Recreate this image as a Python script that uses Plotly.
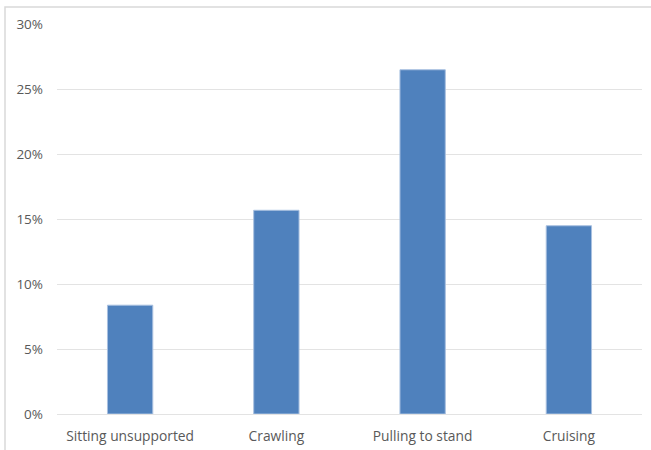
import plotly.graph_objects as go

categories = ["Sitting unsupported", "Crawling", "Pulling to stand", "Cruising"]
values = [0.0837, 0.1567, 0.2648, 0.1448]
tick_vals = [0, 0.05, 0.10, 0.15, 0.20, 0.25, 0.30]
tick_text = ["0%", "5%", "10%", "15%", "20%", "25%", "30%"]

W, H = 651, 450
ml, mr, mt, mb = 57, 9, 24, 36
pw, ph = W - ml - mr, H - mt - mb

fig = go.Figure(go.Bar(
    x=categories, y=values,
    marker=dict(color="#4F81BD", line=dict(color="#a9c0e0", width=1)),
    width=0.31,
))

fig.update_layout(
    width=W, height=H,
    margin=dict(l=ml, r=mr, t=mt, b=mb),
    plot_bgcolor="white", paper_bgcolor="white",
    font=dict(family="Open Sans", size=13, color="#595959"),
    showlegend=False,
    xaxis=dict(showgrid=False, showline=False, ticks="", ticklen=0,
               ticklabelstandoff=12, automargin=False,
               tickfont=dict(size=13.8, color="#595959")),
    yaxis=dict(range=[0, 0.30], tickvals=tick_vals, ticktext=tick_text,
               showgrid=True, gridcolor="#e3e3e3", gridwidth=1,
               zeroline=True, zerolinecolor="#e3e3e3", zerolinewidth=1,
               showline=False, ticks="", ticklabelstandoff=13, automargin=False,
               tickfont=dict(size=13.5, color="#595959")),
    shapes=[dict(type="rect", xref="paper", yref="paper",
                 x0=(5 - ml) / pw, x1=(W + 5 - ml) / pw,
                 y0=-(H + 5 - mt - ph) / ph, y1=1 + (mt - 7) / ph,
                 line=dict(color="#d9d9d9", width=1.5), layer="below")],
)

fig.write_html("out.html")
